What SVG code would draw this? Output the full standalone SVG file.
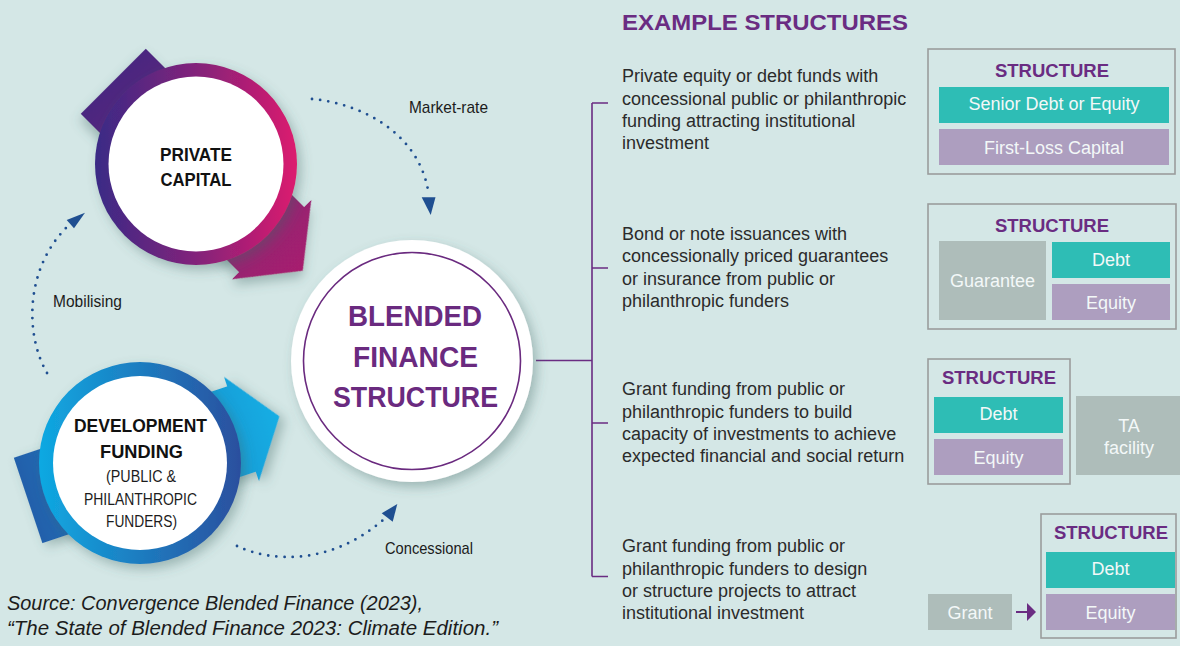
<svg xmlns="http://www.w3.org/2000/svg" width="1180" height="646" viewBox="0 0 1180 646">
  <defs>
    <filter id="shadow" x="-30%" y="-30%" width="160%" height="160%">
      <feDropShadow dx="4" dy="5" stdDeviation="6" flood-color="#3f6664" flood-opacity="0.38"/>
    </filter>
    <linearGradient id="ringPurple" x1="0" y1="0" x2="1" y2="0">
      <stop offset="0" stop-color="#3a2a86"/>
      <stop offset="0.55" stop-color="#8a2279"/>
      <stop offset="1" stop-color="#dc1a6e"/>
    </linearGradient>
    <linearGradient id="arrowPurple" gradientUnits="userSpaceOnUse" x1="-117" y1="0" x2="151" y2="0">
      <stop offset="0" stop-color="#4a2680"/>
      <stop offset="1" stop-color="#a81f6e"/>
    </linearGradient>
    <linearGradient id="ringBlue" x1="0" y1="0" x2="1" y2="0">
      <stop offset="0" stop-color="#0fa9e2"/>
      <stop offset="1" stop-color="#2b4f9e"/>
    </linearGradient>
    <linearGradient id="arrowBlue" gradientUnits="userSpaceOnUse" x1="-118" y1="0" x2="147" y2="0">
      <stop offset="0" stop-color="#2160ab"/>
      <stop offset="1" stop-color="#12aee4"/>
    </linearGradient>
    <style>
      .lbl { font-family: "Liberation Sans", Arial, sans-serif; fill: #1c1c1c; }
      .title { font-family: "Liberation Sans", Arial, sans-serif; font-weight: bold; fill: #111; }
      .blend { font-family: "Liberation Sans", Arial, sans-serif; font-weight: bold; fill: #6a2a7f; font-size: 29px; }
      .desc { font-family: "Liberation Sans", Arial, sans-serif; font-size: 18px; fill: #2b2b2b; }
      .head { font-family: "Liberation Sans", Arial, sans-serif; font-weight: bold; fill: #6a2c82; }
      .st { font-family: "Liberation Sans", Arial, sans-serif; font-weight: bold; font-size: 18.5px; fill: #6a2c82; text-anchor: middle; }
      .bar { font-family: "Liberation Sans", Arial, sans-serif; font-size: 18px; fill: #f3f8f8; text-anchor: middle; }
      .frame { fill: none; stroke: #9a9d9d; stroke-width: 1.6; }
      .teal { fill: #2ebdb5; }
      .lav { fill: #ad9ebf; }
      .grey { fill: #aebdba; }
      .dots { fill: none; stroke: #1f4f91; stroke-width: 2.8; stroke-linecap: round; stroke-dasharray: 0 8.2; }
      .tip { fill: #1f4f91; }
      .bracket { fill: none; stroke: #6a2c82; stroke-width: 1.6; }
    </style>
  </defs>

  <rect width="1180" height="646" fill="#d4e7e6"/>

  <!-- Flow connectors: dotted arcs, bracket and grant arrow -->
  <g id="connectors">
    <path class="dots" d="M312,99 C365,104 418,135 428,190"/>
    <polygon class="tip" points="421.7,197.3 435.5,197.3 430.7,215"/>
    <path class="dots" d="M47,373 C25,335 25,270 66,228"/>
    <polygon class="tip" points="66.7,220 85,212.7 74,228.3"/>
    <path class="dots" d="M237,546 C270,562 330,566 383,520"/>
    <polygon class="tip" points="381.7,513.3 397.3,504 392.7,521.7"/>

    <path class="bracket" d="M536,360.5 H592 M592,103 V576.5 M592,103 H608 M592,268 H608 M592,423 H608 M592,576.5 H608"/>

    <line x1="1016" y1="612" x2="1028" y2="612" stroke="#6a2c82" stroke-width="2"/>
    <polygon points="1027,603 1036,612 1027,621" fill="#6a2c82"/>
  </g>

  <g id="label-market-rate">
    <text class="lbl" x="409" y="113" font-size="17" textLength="79" lengthAdjust="spacingAndGlyphs">Market-rate</text>
  </g>
  <g id="label-mobilising">
    <text class="lbl" x="53" y="307" font-size="17" textLength="69" lengthAdjust="spacingAndGlyphs">Mobilising</text>
  </g>
  <g id="label-concessional">
    <text class="lbl" x="385" y="554" font-size="17" textLength="88" lengthAdjust="spacingAndGlyphs">Concessional</text>
  </g>

  <!-- Private capital: circle with diagonal arrow behind it -->
  <g id="node-private-capital">
    <polygon transform="translate(196,164) rotate(45)" fill="url(#arrowPurple)" filter="url(#shadow)"
             points="-117,-46 107,-46 107,-56 151,0 107,56 107,46 -117,46"/>
    <circle cx="196" cy="164" r="101" fill="url(#ringPurple)" filter="url(#shadow)"/>
    <circle cx="196" cy="164" r="87.5" fill="#ffffff"/>
    <text class="title" x="196" y="161" font-size="19" text-anchor="middle" textLength="72" lengthAdjust="spacingAndGlyphs">PRIVATE</text>
    <text class="title" x="196" y="186" font-size="19" text-anchor="middle" textLength="71" lengthAdjust="spacingAndGlyphs">CAPITAL</text>
  </g>

  <!-- Development funding: circle with arrow pointing to the right -->
  <g id="node-development-funding">
    <polygon transform="translate(140,463) rotate(-18.5)" fill="url(#arrowBlue)" filter="url(#shadow)"
             points="-118,-45 107,-45 107,-55 147,0 107,55 107,45 -118,45"/>
    <circle cx="140" cy="463" r="101" fill="url(#ringBlue)" filter="url(#shadow)"/>
    <circle cx="140" cy="463" r="87" fill="#ffffff"/>
    <text class="title" x="140.5" y="432" font-size="18.5" text-anchor="middle" textLength="133" lengthAdjust="spacingAndGlyphs">DEVELOPMENT</text>
    <text class="title" x="141.5" y="458" font-size="18.5" text-anchor="middle" textLength="83" lengthAdjust="spacingAndGlyphs">FUNDING</text>
    <text class="lbl" x="141" y="482" font-size="17" text-anchor="middle" textLength="70" lengthAdjust="spacingAndGlyphs">(PUBLIC &amp;</text>
    <text class="lbl" x="140.5" y="505" font-size="17" text-anchor="middle" textLength="113" lengthAdjust="spacingAndGlyphs">PHILANTHROPIC</text>
    <text class="lbl" x="141.5" y="527" font-size="17" text-anchor="middle" textLength="71" lengthAdjust="spacingAndGlyphs">FUNDERS)</text>
  </g>

  <!-- Central blended finance structure -->
  <g id="node-blended-finance">
    <circle cx="412" cy="361" r="121" fill="#ffffff" filter="url(#shadow)"/>
    <circle cx="412" cy="361" r="108.5" fill="none" stroke="#6a2a7f" stroke-width="1.6"/>
    <text class="blend" x="415" y="326" text-anchor="middle" textLength="134" lengthAdjust="spacingAndGlyphs">BLENDED</text>
    <text class="blend" x="415.5" y="367" text-anchor="middle" textLength="125" lengthAdjust="spacingAndGlyphs">FINANCE</text>
    <text class="blend" x="415.5" y="407" text-anchor="middle" textLength="165" lengthAdjust="spacingAndGlyphs">STRUCTURE</text>
  </g>

  <g id="heading">
    <text class="head" x="622" y="30" font-size="22" textLength="286" lengthAdjust="spacingAndGlyphs">EXAMPLE STRUCTURES</text>
  </g>

  <!-- Example 1 -->
  <g id="example-1-text">
    <text class="desc" x="622" y="82">Private equity or debt funds with</text>
    <text class="desc" x="622" y="104.5">concessional public or philanthropic</text>
    <text class="desc" x="622" y="127">funding attracting institutional</text>
    <text class="desc" x="622" y="149">investment</text>
  </g>
  <g id="example-1-structure">
    <rect class="frame" x="928" y="49" width="247" height="125"/>
    <text class="st" x="1052" y="77">STRUCTURE</text>
    <rect class="teal" x="939" y="87" width="230" height="36"/>
    <text class="bar" x="1054" y="110">Senior Debt or Equity</text>
    <rect class="lav" x="939" y="129" width="230" height="36"/>
    <text class="bar" x="1054" y="153.5">First-Loss Capital</text>
  </g>

  <!-- Example 2 -->
  <g id="example-2-text">
    <text class="desc" x="622" y="239.5">Bond or note issuances with</text>
    <text class="desc" x="622" y="262">concessionally priced guarantees</text>
    <text class="desc" x="622" y="284.5">or insurance from public or</text>
    <text class="desc" x="622" y="306.5">philanthropic funders</text>
  </g>
  <g id="example-2-structure">
    <rect class="frame" x="928" y="204" width="248" height="125"/>
    <text class="st" x="1052" y="232">STRUCTURE</text>
    <rect class="grey" x="939" y="241" width="107" height="79"/>
    <text class="bar" x="992.5" y="287">Guarantee</text>
    <rect class="teal" x="1052" y="242" width="118" height="36"/>
    <text class="bar" x="1111" y="265.5">Debt</text>
    <rect class="lav" x="1052" y="284" width="118" height="36"/>
    <text class="bar" x="1111" y="309">Equity</text>
  </g>

  <!-- Example 3 -->
  <g id="example-3-text">
    <text class="desc" x="622" y="395">Grant funding from public or</text>
    <text class="desc" x="622" y="417.5">philanthropic funders to build</text>
    <text class="desc" x="622" y="440">capacity of investments to achieve</text>
    <text class="desc" x="622" y="462">expected financial and social return</text>
  </g>
  <g id="example-3-structure">
    <rect class="frame" x="928" y="359" width="142" height="125"/>
    <text class="st" x="999" y="384">STRUCTURE</text>
    <rect class="teal" x="934" y="397" width="129" height="36"/>
    <text class="bar" x="998.5" y="420">Debt</text>
    <rect class="lav" x="934" y="439" width="129" height="36"/>
    <text class="bar" x="998.5" y="464">Equity</text>
    <rect class="grey" x="1076" y="396" width="104" height="79"/>
    <text class="bar" x="1129" y="432">TA</text>
    <text class="bar" x="1129" y="454">facility</text>
  </g>

  <!-- Example 4 -->
  <g id="example-4-text">
    <text class="desc" x="622" y="552">Grant funding from public or</text>
    <text class="desc" x="622" y="574.5">philanthropic funders to design</text>
    <text class="desc" x="622" y="597">or structure projects to attract</text>
    <text class="desc" x="622" y="619">institutional investment</text>
  </g>
  <g id="example-4-structure">
    <rect class="grey" x="928" y="594" width="84" height="36"/>
    <text class="bar" x="970" y="618.5">Grant</text>
    <rect class="frame" x="1041" y="514" width="135" height="124"/>
    <text class="st" x="1111" y="538.5">STRUCTURE</text>
    <rect class="teal" x="1046" y="552" width="129" height="36"/>
    <text class="bar" x="1110.5" y="575">Debt</text>
    <rect class="lav" x="1046" y="594" width="129" height="36"/>
    <text class="bar" x="1110.5" y="618.5">Equity</text>
  </g>

  <g id="source-note">
    <text class="lbl" x="7" y="610" font-size="20" font-style="italic" textLength="416" lengthAdjust="spacingAndGlyphs">Source: Convergence Blended Finance (2023),</text>
    <text class="lbl" x="7" y="635" font-size="20" font-style="italic" textLength="491" lengthAdjust="spacingAndGlyphs">“The State of Blended Finance 2023: Climate Edition.”</text>
  </g>
</svg>
